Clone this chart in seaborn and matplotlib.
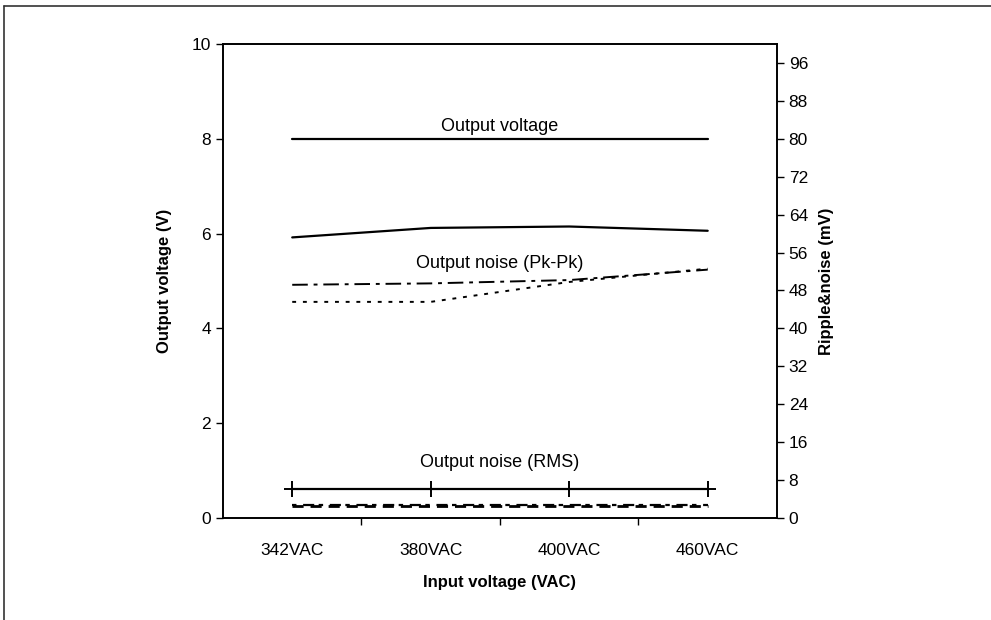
import matplotlib
matplotlib.use("Agg")
import matplotlib.pyplot as plt
import seaborn as sns
import pandas as pd
from matplotlib.lines import Line2D

categories = ["342VAC", "380VAC", "400VAC", "460VAC"]
output_voltage = [8.0, 8.0, 8.0, 8.0]
noise_pkpk_solid = [5.92, 6.12, 6.15, 6.06]
noise_pkpk_dashdot = [4.92, 4.95, 5.02, 5.24]
noise_pkpk_dotted = [4.56, 4.56, 4.98, 5.26]
noise_rms_solid = [0.62, 0.62, 0.62, 0.62]
noise_rms_dashed = [0.26, 0.26, 0.26, 0.26]
noise_rms_dashdot = [0.27, 0.27, 0.27, 0.27]
left_ticks = [0, 2, 4, 6, 8, 10]
right_ticks = [0, 8, 16, 24, 32, 40, 48, 56, 64, 72, 80, 88, 96]

sns.set_theme(style="white")
plt.rcParams['font.family'] = ['Liberation Sans', 'DejaVu Sans']
plt.rcParams['text.color'] = 'black'
plt.rcParams['axes.labelcolor'] = 'black'
plt.rcParams['xtick.color'] = 'black'
plt.rcParams['ytick.color'] = 'black'

fig = plt.figure(figsize=(9.91, 6.2), dpi=100)
ax = fig.add_axes([0.225, 0.1645, 0.559, 0.7645])

x = list(range(len(categories)))

def draw(vals, **kw):
    df = pd.DataFrame({"x": x, "y": vals})
    sns.lineplot(data=df, x="x", y="y", ax=ax, color="black", legend=False, **kw)

draw(output_voltage, linewidth=1.6)
draw(noise_pkpk_solid, linewidth=1.6)
draw(noise_pkpk_dashdot, linewidth=1.4)
ax.lines[-1].set_dashes([8, 3, 2, 3])
draw(noise_pkpk_dotted, linewidth=1.4)
ax.lines[-1].set_dashes([2, 3.5])
draw(noise_rms_solid, linewidth=1.6, marker="+", markersize=12,
     markeredgewidth=1.4, markeredgecolor="black")
draw(noise_rms_dashed, linewidth=2.0)
ax.lines[-1].set_dashes([4, 2.5])
draw(noise_rms_dashdot, linewidth=1.6)
ax.lines[-1].set_dashes([2, 3, 5, 2])

ax.set_xlim(-0.5, len(categories) - 0.5)
ax.set_ylim(0, 10)
ax.set_yticks(left_ticks)
ax.set_xticks(x)
ax.set_xticklabels(categories, fontsize=12.5)
ax.set_xticks([i + 0.5 for i in x[:-1]], minor=True)
ax.tick_params(axis="x", which="major", length=0, pad=18)
ax.tick_params(axis="x", which="minor", length=5, width=1, color="black", bottom=True, direction="out")
ax.tick_params(axis="y", which="major", length=5, width=1, color="black", left=True, direction="out", labelsize=12.5)
ax.set_xlabel("Input voltage (VAC)", fontsize=12, fontweight="bold", labelpad=12)
ax.set_ylabel("Output voltage (V)", fontsize=12, fontweight="bold", labelpad=14)
for s in ax.spines.values():
    s.set_color("black")
    s.set_linewidth(1.2)

ax2 = ax.twinx()
ax2.set_ylim(0, 100)
ax2.set_yticks(right_ticks)
ax2.tick_params(axis="y", length=5, width=1, color="black", right=True, direction="out", labelsize=12.5)
ax2.set_ylabel("Ripple&noise (mV)", fontsize=12, fontweight="bold", labelpad=8)
ax2.grid(False)
ax.grid(False)
for s in ax2.spines.values():
    s.set_color("black")
    s.set_linewidth(1.2)

ax.text(1.5, 8.27, "Output voltage", ha="center", va="center", fontsize=13)
ax.text(1.5, 5.38, "Output noise (Pk-Pk)", ha="center", va="center", fontsize=13)
ax.text(1.5, 1.18, "Output noise (RMS)", ha="center", va="center", fontsize=13)

fig.lines.append(Line2D([0.004, 1.0], [0.99, 0.99], transform=fig.transFigure,
                        color="#333333", linewidth=1.2))
fig.lines.append(Line2D([0.004, 0.004], [0.0, 0.99], transform=fig.transFigure,
                        color="#333333", linewidth=1.2))

fig.savefig("out.png", dpi=100)
